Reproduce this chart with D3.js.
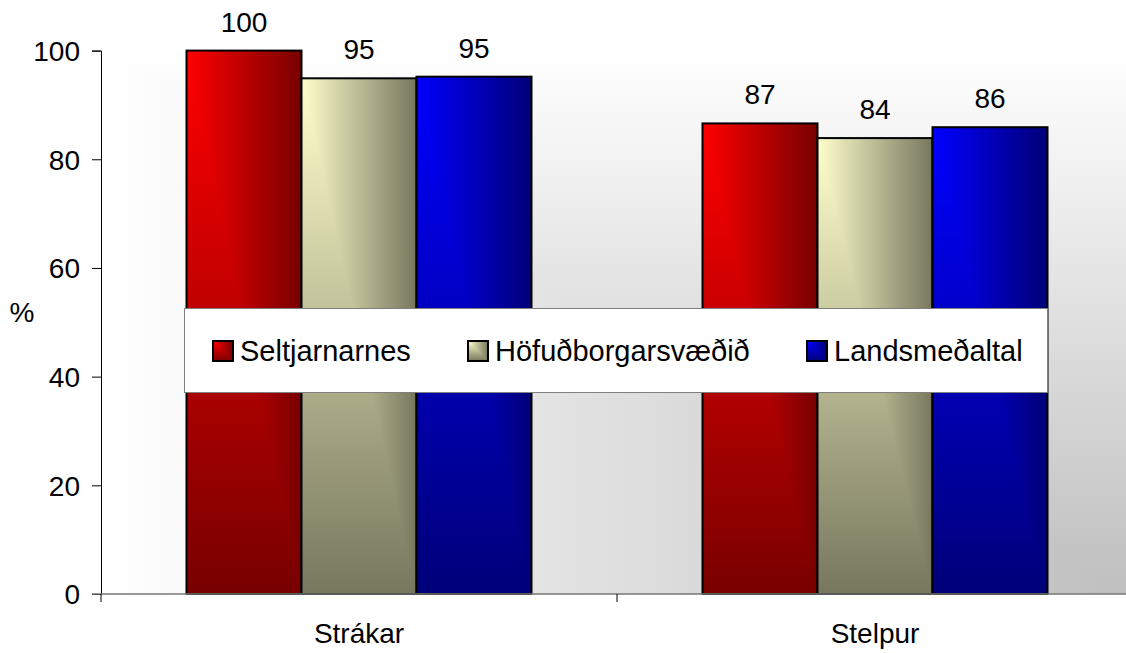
<!DOCTYPE html>
<html>
<head>
<meta charset="utf-8">
<script src="https://cdn.jsdelivr.net/npm/d3@7"></script>
<style>
  html, body { margin: 0; padding: 0; background: #ffffff; }
  svg { display: block; }
  text { font-family: "Liberation Sans", Arial, sans-serif; fill: #000; }
</style>
</head>
<body>
<svg id="chart" width="1126" height="653"></svg>
<script>
// ---- data ----
const categories = ["Strákar", "Stelpur"];
const seriesNames = ["Seltjarnarnes", "Höfuðborgarsvæðið", "Landsmeðaltal"];
const seltjarnarnes = [100, 86.6];
const hofudborgarsvaedid = [94.9, 83.9];
const landsmedaltal = [95.2, 85.9];
const yTicks = [0, 20, 40, 60, 80, 100];
const yLabel = "%";

const seriesValues = [seltjarnarnes, hofudborgarsvaedid, landsmedaltal];
const seriesLight = ["#ff0000", "#ffffcc", "#0000ff"];
const seriesDark = ["#780000", "#77775e", "#000078"];

// ---- layout ----
const W = 1126, H = 653;
const plot = { left: 101, right: 1133, top: 50.6, bottom: 594 };
const fontSize = 28;
const legendFontSize = 29;

const svg = d3.select("#chart");
const defs = svg.append("defs");

const x0 = d3.scaleBand().domain(categories).range([plot.left, plot.right]).paddingInner(0).paddingOuter(0);
const x1 = d3.scaleBand().domain(seriesNames).range([0, x0.bandwidth()]).paddingInner(0).paddingOuter(0.7435);
const y = d3.scaleLinear().domain([0, 100]).range([plot.bottom, plot.top]);

// ---- gradients ----
function linGrad(id, horiz, c0, c1, units, coords) {
  const g = defs.append("linearGradient").attr("id", id);
  if (units === "user") {
    g.attr("gradientUnits", "userSpaceOnUse")
      .attr("x1", coords[0]).attr("y1", coords[1]).attr("x2", coords[2]).attr("y2", coords[3]);
  } else {
    g.attr("x1", 0).attr("y1", 0).attr("x2", horiz ? 1 : 0).attr("y2", horiz ? 0 : 1);
  }
  g.append("stop").attr("offset", 0).attr("stop-color", c0);
  g.append("stop").attr("offset", 1).attr("stop-color", c1);
}
seriesNames.forEach((s, i) => {
  linGrad("h" + i, true, seriesLight[i], seriesDark[i]);
  linGrad("v" + i, false, seriesLight[i], seriesDark[i]);
});
// background "from corner" gradient (gray at bottom-right, white at edges)
linGrad("bgH", true, "#ffffff", "#bfbfbf", "user", [plot.left, 0, plot.right, 0]);
linGrad("bgV", false, "#ffffff", "#bfbfbf", "user", [0, plot.top, 0, plot.bottom]);

// ---- plot background ----
const bg = svg.append("g");
bg.append("rect")
  .attr("x", plot.left).attr("y", plot.top)
  .attr("width", plot.right - plot.left).attr("height", plot.bottom - plot.top)
  .attr("fill", "url(#bgV)");
bg.append("path")
  .attr("d", `M${plot.right},${plot.bottom}L${plot.left},${plot.bottom}L${plot.left},${plot.top}Z`)
  .attr("fill", "url(#bgH)");

// corner-gradient box helper: light at top-left corner, dark away from it
function cornerBox(g, x, yy, w, h, i) {
  g.append("rect").attr("x", x).attr("y", yy).attr("width", w).attr("height", h)
    .attr("fill", `url(#v${i})`);
  g.append("path")
    .attr("d", `M${x},${yy}L${x + w},${yy}L${x + w},${yy + h}Z`)
    .attr("fill", `url(#h${i})`);
  g.append("rect").attr("x", x).attr("y", yy).attr("width", w).attr("height", h)
    .attr("fill", "none").attr("stroke", "#000").attr("stroke-width", 2);
}

// ---- bars ----
const barData = [];
categories.forEach((c, ci) => {
  seriesNames.forEach((s, si) => {
    barData.push({ cat: c, series: s, si: si, value: seriesValues[si][ci] });
  });
});
const bars = svg.append("g");
bars.selectAll("g.bar").data(barData).join("g").attr("class", "bar")
  .each(function (d) {
    const bx = x0(d.cat) + x1(d.series);
    cornerBox(d3.select(this), bx, y(d.value), x1.bandwidth(), y(0) - y(d.value), d.si);
  });

// value labels
svg.append("g").selectAll("text").data(barData).join("text")
  .attr("x", d => x0(d.cat) + x1(d.series) + x1.bandwidth() / 2)
  .attr("y", d => y(d.value) - 19)
  .attr("text-anchor", "middle")
  .attr("font-size", fontSize)
  .text(d => d3.format(".0f")(d.value));

// ---- y axis ----
const yAxis = svg.append("g").attr("transform", `translate(${plot.left},0)`)
  .call(d3.axisLeft(y).tickValues(yTicks).tickSize(9).tickPadding(12).tickFormat(d3.format("d")));
yAxis.select(".domain").attr("stroke", "#000").attr("stroke-width", 1);
yAxis.selectAll(".tick line").attr("stroke", "#000");
yAxis.selectAll(".tick text").attr("font-size", fontSize).attr("font-family", null).attr("dy", "0.35em").attr("fill", "#000");

// ---- x axis ----
const xAxis = svg.append("g").attr("transform", `translate(0,${plot.bottom})`)
  .call(d3.axisBottom(x0).tickSize(0).tickPadding(29));
xAxis.select(".domain").remove();
xAxis.selectAll(".tick text").attr("font-size", fontSize).attr("font-family", null).attr("fill", "#000");
xAxis.append("line").attr("x1", plot.left - 9).attr("x2", W).attr("y1", 0).attr("y2", 0)
  .attr("stroke", "#777").attr("stroke-width", 1.5);
const boundaries = categories.map(c => x0(c)).concat([x0.range()[1]]);
xAxis.selectAll("line.bt").data(boundaries).join("line").attr("class", "bt")
  .attr("x1", d => d).attr("x2", d => d).attr("y1", 0).attr("y2", 8)
  .attr("stroke", "#000").attr("stroke-width", 1);

// y label
svg.append("text").attr("x", 22).attr("y", 322).attr("text-anchor", "middle")
  .attr("font-size", fontSize).text(yLabel);

// ---- legend ----
const legend = svg.append("g");
legend.append("rect").attr("x", 184.5).attr("y", 308.5).attr("width", 863).attr("height", 84)
  .attr("fill", "#fff").attr("stroke", "#808080").attr("stroke-width", 1);
const legendX = [213, 468, 807];
seriesNames.forEach((s, i) => {
  const g = legend.append("g");
  cornerBox(g, legendX[i], 341, 20, 20, i);
  g.append("text").attr("x", legendX[i] + 27).attr("y", 361).attr("font-size", legendFontSize).text(s);
});
</script>
</body>
</html>
